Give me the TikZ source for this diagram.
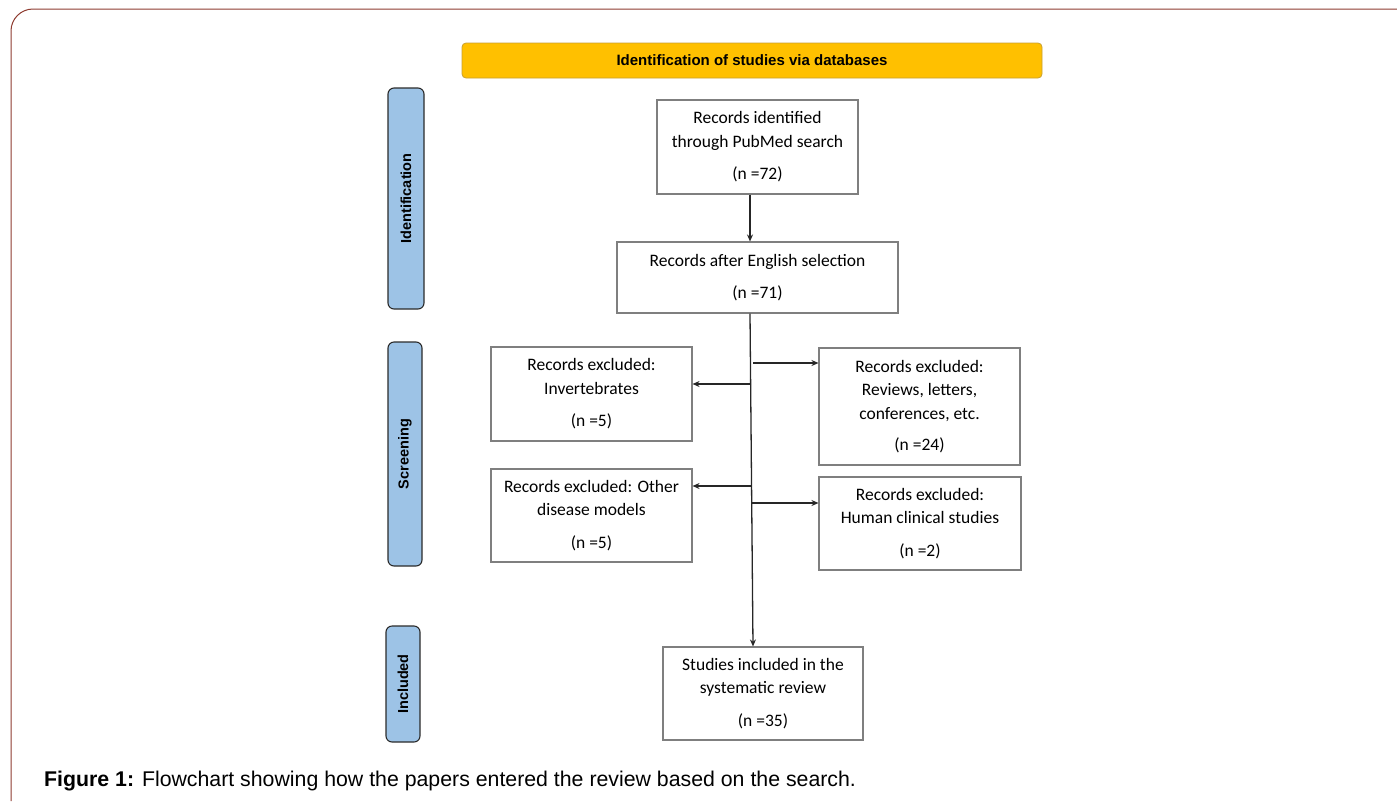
\documentclass[tikz,border=0pt]{standalone}
\usepackage{fontspec}
\setmainfont{Carlito}
\newfontfamily\arialf{Liberation Sans}
\usetikzlibrary{arrows.meta}
\definecolor{framec}{HTML}{8E3B2F}
\definecolor{hdrfill}{HTML}{FFC000}
\definecolor{hdrdraw}{HTML}{C8A032}
\definecolor{sidefill}{HTML}{9DC3E6}
\definecolor{sidedraw}{HTML}{2B2B2B}
\definecolor{boxdraw}{HTML}{7F7F7F}
\tikzset{
  flowbox/.style={draw=boxdraw, line width=1.1pt, fill=white, align=center, inner sep=0pt,
    font=\fontsize{17.5}{23.5}\selectfont},
  sidebar/.style={draw=sidedraw, line width=1.1pt, fill=sidefill, rounded corners=6pt, inner sep=0pt},
  sidelabel/.style={rotate=90, font=\arialf\bfseries\fontsize{14.5}{16}\selectfont},
  arr/.style={line width=1.3pt, draw=black!85, -{Stealth[length=7pt,width=6pt]}},
}
\begin{document}
\begin{tikzpicture}[x=1pt,y=-1pt]
\useasboundingbox (0,0) rectangle (1397,801);
% outer frame
\draw[framec, line width=1pt] (11,801) -- (11,31) arc[start angle=180, end angle=270, radius=22] -- (1397,9);
% header
\node[draw=hdrdraw, fill=hdrfill, line width=0.8pt, rounded corners=4pt, minimum width=580pt, minimum height=35pt, inner sep=0pt,
  font=\arialf\bfseries\fontsize{15}{17}\selectfont] (hdr) at (752,60.5) {Identification of studies via databases};
% side bars
\node[sidebar, minimum width=36pt, minimum height=221pt] (sid) at (406,198.5) {};
\node[sidelabel] (sidt) at (sid.center) {Identification};
\node[sidebar, minimum width=34pt, minimum height=224pt] (sscr) at (405,454) {};
\node[sidelabel] (sscrt) at (sscr.center) {Screening};
\node[sidebar, minimum width=34pt, minimum height=116pt] (sinc) at (403,684) {};
\node[sidelabel] (sinct) at (sinc.center) {Included};
% boxes
\node[flowbox, minimum width=201pt, minimum height=94pt] (b1) at (757.5,147)
  {Records identified\\through PubMed search\\[9pt](n =72)};
\node[flowbox, minimum width=281pt, minimum height=71pt] (b2) at (757.5,277.5)
  {Records after English selection\\[9pt](n =71)};
\node[flowbox, minimum width=201pt, minimum height=94pt] (l1) at (591.5,394)
  {Records excluded:\\Invertebrates\\[9pt](n =5)};
\node[flowbox, minimum width=201pt, minimum height=117pt] (r1) at (919.5,406.5)
  {Records excluded:\\Reviews, letters,\\conferences, etc.\\[8pt](n =24)};
\node[flowbox, minimum width=201pt, minimum height=93pt] (l2) at (591.5,515.5)
  {Records excluded: Other\\disease models\\[9pt](n =5)};
\node[flowbox, minimum width=202pt, minimum height=93pt] (r2) at (920,523.5)
  {Records excluded:\\Human clinical studies\\[9pt](n =2)};
\node[flowbox, minimum width=200pt, minimum height=93pt] (b3) at (763,693.5)
  {Studies included in the\\systematic review\\[9pt](n =35)};
% connectors
\draw[arr] ([xshift=-7.5pt]b1.south) -- ([xshift=-7.5pt]b2.north);
\draw[arr] ([xshift=-7.5pt]b2.south) -- ([xshift=-10pt]b3.north);
\coordinate (s1) at (753,363);
\coordinate (s2) at (751,384);
\coordinate (s3) at (751,486);
\coordinate (s4) at (752,503);
\draw[arr] (s1) -- (s1 -| r1.west);
\draw[arr] (s2) -- (s2 -| l1.east);
\draw[arr] (s3) -- (s3 -| l2.east);
\draw[arr] (s4) -- (s4 -| r2.west);
% caption
\node[anchor=west, inner sep=0pt, font=\arialf\fontsize{21.3}{23}\selectfont] (cap) at (44,781)
  {\textbf{Figure 1:} Flowchart showing how the papers entered the review based on the search.};
\end{tikzpicture}
\end{document}
